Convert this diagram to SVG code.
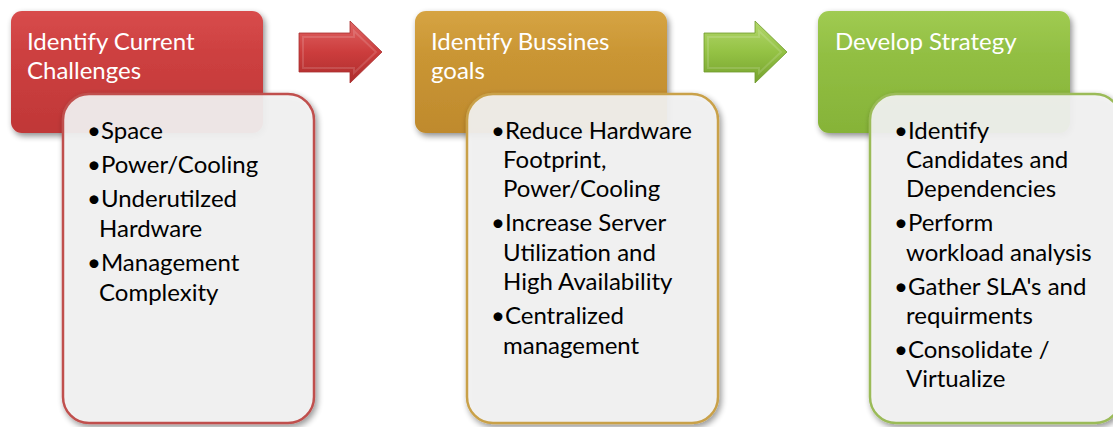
<svg xmlns="http://www.w3.org/2000/svg" width="1113" height="427" viewBox="0 0 1113 427">
  <defs>
    <linearGradient id="gRed" x1="0" y1="0" x2="0" y2="1">
      <stop offset="0" stop-color="#d84c4c"/>
      <stop offset="0.35" stop-color="#cd4040"/>
      <stop offset="1" stop-color="#c03737"/>
    </linearGradient>
    <linearGradient id="gGold" x1="0" y1="0" x2="0" y2="1">
      <stop offset="0" stop-color="#d6a443"/>
      <stop offset="0.35" stop-color="#ca9634"/>
      <stop offset="1" stop-color="#bf8a2d"/>
    </linearGradient>
    <linearGradient id="gGreen" x1="0" y1="0" x2="0" y2="1">
      <stop offset="0" stop-color="#a0cb52"/>
      <stop offset="0.35" stop-color="#92bf43"/>
      <stop offset="1" stop-color="#86b338"/>
    </linearGradient>
    <linearGradient id="aRed" x1="0" y1="0" x2="0" y2="1">
      <stop offset="0" stop-color="#e06464"/>
      <stop offset="0.5" stop-color="#cc3d3d"/>
      <stop offset="1" stop-color="#ad2c2c"/>
    </linearGradient>
    <linearGradient id="aGreen" x1="0" y1="0" x2="0" y2="1">
      <stop offset="0" stop-color="#b3d76c"/>
      <stop offset="0.5" stop-color="#94c244"/>
      <stop offset="1" stop-color="#76a22f"/>
    </linearGradient>
    <filter id="shadow" x="-10%" y="-10%" width="125%" height="125%">
      <feGaussianBlur in="SourceAlpha" stdDeviation="3"/>
      <feOffset dx="2" dy="3" result="b"/>
      <feComponentTransfer><feFuncA type="linear" slope="0.45"/></feComponentTransfer>
      <feMerge><feMergeNode/><feMergeNode in="SourceGraphic"/></feMerge>
    </filter>
  </defs>
  <style>
    .head { font-family: Lato, "Open Sans", "Liberation Sans", sans-serif; font-size: 24px; fill: #ffffff; }
    .body { font-family: Lato, "Open Sans", "Liberation Sans", sans-serif; font-size: 24px; fill: #000000; }
    .card { fill: #f4f4f4; fill-opacity: 0.9; stroke-width: 2.5; }
    .bevel { fill: none; stroke: #ffffff; stroke-opacity: 0.14; stroke-width: 2; }
  </style>

  <rect width="1113" height="427" fill="#ffffff"/>

  <!-- step 1 -->
  <g id="step1">
    <rect x="11" y="11" width="252" height="122" rx="11" fill="url(#gRed)" filter="url(#shadow)"/>
    <text class="head"><tspan x="27" y="50">Identify Current</tspan><tspan x="27" y="79">Challenges</tspan></text>
    <rect class="card" x="63" y="94" width="251" height="329" rx="26" stroke="#c0504d" filter="url(#shadow)"/>
    <text class="body">
      <tspan x="87" y="139">•Space</tspan>
      <tspan x="87" y="173">•Power/Cooling</tspan>
      <tspan x="87" y="207">•Underutilzed</tspan>
      <tspan x="99" y="237">Hardware</tspan>
      <tspan x="87" y="271">•Management</tspan>
      <tspan x="99" y="301">Complexity</tspan>
    </text>
  </g>

  <!-- step 2 -->
  <g id="step2">
    <rect x="415" y="11" width="252" height="122" rx="11" fill="url(#gGold)" filter="url(#shadow)"/>
    <text class="head"><tspan x="431" y="50">Identify Bussines</tspan><tspan x="431" y="79">goals</tspan></text>
    <rect class="card" x="467" y="94" width="251" height="329" rx="26" stroke="#c9a14a" filter="url(#shadow)"/>
    <text class="body">
      <tspan x="491" y="139">•Reduce Hardware</tspan>
      <tspan x="503" y="168">Footprint,</tspan>
      <tspan x="503" y="197">Power/Cooling</tspan>
      <tspan x="491" y="231">•Increase Server</tspan>
      <tspan x="503" y="261">Utilization and</tspan>
      <tspan x="503" y="290">High Availability</tspan>
      <tspan x="491" y="324">•Centralized</tspan>
      <tspan x="503" y="354">management</tspan>
    </text>
  </g>

  <!-- step 3 -->
  <g id="step3">
    <rect x="818" y="11" width="252" height="122" rx="11" fill="url(#gGreen)" filter="url(#shadow)"/>
    <text class="head"><tspan x="835" y="50">Develop Strategy</tspan></text>
    <rect class="card" x="870" y="94" width="251" height="329" rx="26" stroke="#9bbb59" filter="url(#shadow)"/>
    <text class="body">
      <tspan x="894" y="139">•Identify</tspan>
      <tspan x="906" y="168">Candidates and</tspan>
      <tspan x="906" y="197">Dependencies</tspan>
      <tspan x="894" y="231">•Perform</tspan>
      <tspan x="906" y="261">workload analysis</tspan>
      <tspan x="894" y="295">•Gather SLA's and</tspan>
      <tspan x="906" y="324">requirments</tspan>
      <tspan x="894" y="358">•Consolidate /</tspan>
      <tspan x="906" y="387">Virtualize</tspan>
    </text>
  </g>

  <!-- connectors: bevelled block arrows between steps -->
  <g id="connectors">
    <path d="M299,33 H350 V21 L382,52 L350,83 V72 H299 Z" fill="url(#aRed)" stroke="#a83030" stroke-width="0.8"/>
    <path class="bevel" d="M303,37 H354 V31 L376,52 L354,73 V68 H303 Z"/>
    <path d="M704,33 H755 V21 L787,52 L755,83 V72 H704 Z" fill="url(#aGreen)" stroke="#6f9a2c" stroke-width="0.8"/>
    <path class="bevel" d="M708,37 H759 V31 L781,52 L759,73 V68 H708 Z"/>
  </g>
</svg>
